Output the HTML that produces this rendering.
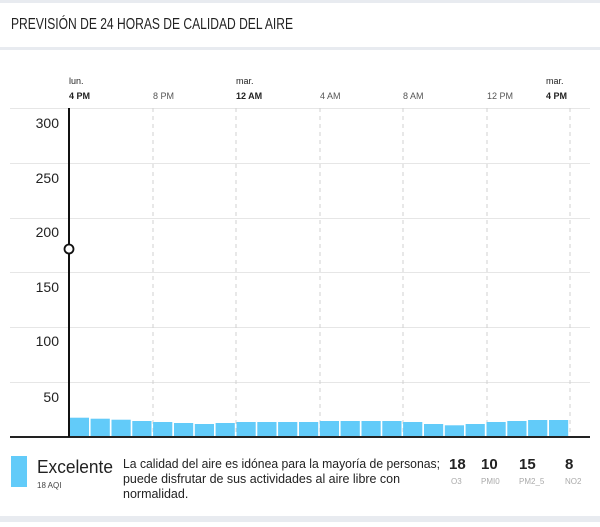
<!DOCTYPE html><html><head><meta charset="utf-8"><style>body{margin:0;width:600px;height:522px;overflow:hidden;background:#fff;font-family:"Liberation Sans",sans-serif}</style></head><body>
<svg width="600" height="522" xmlns="http://www.w3.org/2000/svg" font-family="Liberation Sans, sans-serif">
<rect x="0" y="0" width="600" height="3" fill="#e8ebf0"/>
<text x="11" y="29" font-size="16" fill="#222" textLength="282" lengthAdjust="spacingAndGlyphs">PREVISIÓN DE 24 HORAS DE CALIDAD DEL AIRE</text>
<rect x="0" y="47" width="600" height="3" fill="#e8ebf0"/>
<g font-size="9" fill="#222">
<text x="69" y="84">lun.</text><text x="69" y="99" font-weight="bold">4 PM</text>
<text x="153" y="99" fill="#555">8 PM</text>
<text x="236" y="84">mar.</text><text x="236" y="99" font-weight="bold">12 AM</text>
<text x="320" y="99" fill="#555">4 AM</text>
<text x="403" y="99" fill="#555">8 AM</text>
<text x="487" y="99" fill="#555">12 PM</text>
<text x="546" y="84">mar.</text><text x="546" y="99" font-weight="bold">4 PM</text>
</g>
<g stroke="#e6e6e6" stroke-width="1">
<line x1="10" y1="108.5" x2="590" y2="108.5"/><line x1="10" y1="163.5" x2="590" y2="163.5"/><line x1="10" y1="218.5" x2="590" y2="218.5"/><line x1="10" y1="272.5" x2="590" y2="272.5"/><line x1="10" y1="327.5" x2="590" y2="327.5"/><line x1="10" y1="382.5" x2="590" y2="382.5"/>
</g>
<g stroke="#d0d0d0" stroke-dasharray="4,4">
<line x1="153" y1="108" x2="153" y2="437"/><line x1="236" y1="108" x2="236" y2="437"/><line x1="320" y1="108" x2="320" y2="437"/><line x1="403" y1="108" x2="403" y2="437"/><line x1="487" y1="108" x2="487" y2="437"/><line x1="570" y1="108" x2="570" y2="437"/>
</g>
<g font-size="14" fill="#222" text-anchor="end">
<text x="59" y="128">300</text><text x="59" y="183">250</text><text x="59" y="237">200</text><text x="59" y="292">150</text><text x="59" y="346">100</text><text x="59" y="402">50</text>
</g>
<g fill="#62cbf9">
<rect x="69.8" y="417.7" width="19.2" height="19.3"/>
<rect x="90.6" y="418.7" width="19.2" height="18.3"/>
<rect x="111.5" y="419.7" width="19.2" height="17.3"/>
<rect x="132.3" y="421" width="19.2" height="16"/>
<rect x="153.1" y="422" width="19.2" height="15"/>
<rect x="174.0" y="423" width="19.2" height="14"/>
<rect x="194.8" y="424" width="19.2" height="13"/>
<rect x="215.6" y="423" width="19.2" height="14"/>
<rect x="236.5" y="422" width="19.2" height="15"/>
<rect x="257.3" y="422" width="19.2" height="15"/>
<rect x="278.1" y="422" width="19.2" height="15"/>
<rect x="299.0" y="422" width="19.2" height="15"/>
<rect x="319.8" y="421" width="19.2" height="16"/>
<rect x="340.6" y="421" width="19.2" height="16"/>
<rect x="361.5" y="421" width="19.2" height="16"/>
<rect x="382.3" y="421" width="19.2" height="16"/>
<rect x="403.1" y="422" width="19.2" height="15"/>
<rect x="424.0" y="424" width="19.2" height="13"/>
<rect x="444.8" y="425.3" width="19.2" height="11.7"/>
<rect x="465.6" y="424" width="19.2" height="13"/>
<rect x="486.5" y="422" width="19.2" height="15"/>
<rect x="507.3" y="421" width="19.2" height="16"/>
<rect x="528.1" y="420" width="19.2" height="17"/>
<rect x="549.0" y="420" width="19.2" height="17"/>
</g>
<line x1="10" y1="437" x2="590" y2="437" stroke="#222" stroke-width="2"/>
<line x1="69" y1="108" x2="69" y2="437" stroke="#111" stroke-width="2"/>
<circle cx="69" cy="249" r="4.5" fill="#fff" stroke="#111" stroke-width="1.8"/>
<rect x="11" y="456" width="16" height="31" fill="#62cbf9"/>
<text x="37" y="473" font-size="18" fill="#222" textLength="76" lengthAdjust="spacingAndGlyphs">Excelente</text>
<text x="37" y="488" font-size="8" fill="#444">18 AQI</text>
<g font-size="12.5" fill="#222"><text x="123" y="468" textLength="317" lengthAdjust="spacingAndGlyphs">La calidad del aire es idónea para la mayoría de personas;</text><text x="123" y="483" textLength="277" lengthAdjust="spacingAndGlyphs">puede disfrutar de sus actividades al aire libre con</text><text x="123" y="498">normalidad.</text></g>
<g font-size="15" fill="#222" font-weight="bold"><text x="449" y="469">18</text><text x="481" y="469">10</text><text x="519" y="469">15</text><text x="565" y="469">8</text></g>
<g font-size="8" fill="#aaa"><text x="451" y="484">O3</text><text x="481" y="484">PMI0</text><text x="519" y="484">PM2_5</text><text x="565" y="484">NO2</text></g>
<rect x="0" y="516" width="600" height="6" fill="#e8ebf0"/>
</svg></body></html>
